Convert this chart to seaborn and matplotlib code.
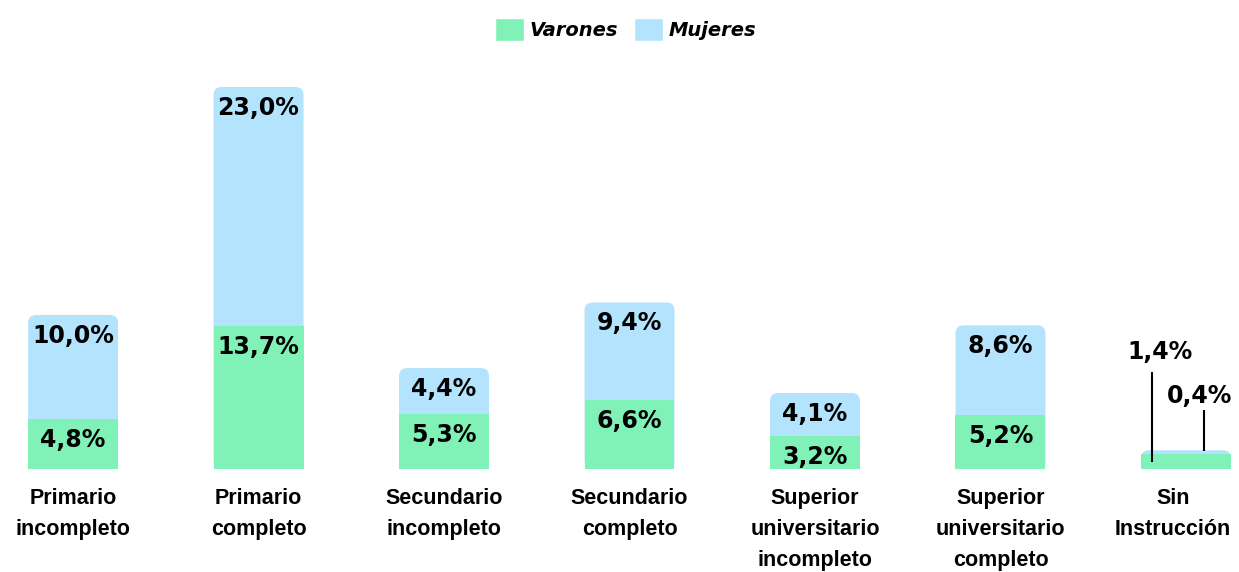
import matplotlib.pyplot as plt
import pandas as pd
import seaborn as sns
from matplotlib.patches import FancyBboxPatch, Patch
from matplotlib.transforms import ScaledTranslation

categorias = [
    "Primario\nincompleto",
    "Primario\ncompleto",
    "Secundario\nincompleto",
    "Secundario\ncompleto",
    "Superior\nuniversitario\nincompleto",
    "Superior\nuniversitario\ncompleto",
    "Sin\nInstrucción",
]
varones = [4.8, 13.7, 5.3, 6.6, 3.2, 5.2, 1.4]
mujeres = [10.0, 23.0, 4.4, 9.4, 4.1, 8.6, 0.4]

verde = "#80f2b8"
celeste = "#b3e3fd"

df = pd.DataFrame({"nivel": categorias, "Varones": varones, "Mujeres": mujeres})
df["total"] = df["Varones"] + df["Mujeres"]

sns.set_style("white")
plt.rcParams["font.family"] = ["DejaVu Sans"]
plt.rcParams["text.color"] = "black"
plt.rcParams["xtick.color"] = "black"

W, H = 1239, 572
fig = plt.figure(figsize=(W / 100, H / 100), dpi=100)
ax = fig.add_axes([0, 103 / H, 1, 409 / H])
xlim = (-0.394, 6.286)
ylim = (0, 39.3)

# total bar (mujeres on top of varones)
sns.barplot(data=df, x="nivel", y="total", color=celeste, saturation=1,
            width=0.485, linewidth=0, ax=ax)

# rounded top corners
px_x = W / (xlim[1] - xlim[0])
px_y = 409 / (ylim[1] - ylim[0])
r = 8 / px_x
for p in list(ax.patches):
    x, y, w, h = p.get_x(), p.get_y(), p.get_width(), p.get_height()
    p.remove()
    ax.add_patch(FancyBboxPatch((x, y), w, h,
                                boxstyle=f"round,pad=0,rounding_size={r}",
                                mutation_aspect=px_x / px_y,
                                fc=celeste, ec="none", zorder=1))

sns.barplot(data=df, x="nivel", y="Varones", color=verde, saturation=1,
            width=0.485, linewidth=0, ax=ax, zorder=2)

ax.set_xlim(*xlim)
ax.set_ylim(*ylim)


def fmt(v):
    return f"{v:.1f}".replace(".", ",") + "%"


for i, row in df.iterrows():
    if i == len(df) - 1:
        continue
    ax.annotate(fmt(row["Mujeres"]), (i, row["total"]), xytext=(0, -15),
                textcoords="offset points", ha="center", va="center",
                fontsize=17, fontweight="bold", zorder=3)
    ax.annotate(fmt(row["Varones"]), (i, row["Varones"]), xytext=(0, -15),
                textcoords="offset points", ha="center", va="center",
                fontsize=17, fontweight="bold", zorder=3)

# small bar: labels with leader lines
i = len(df) - 1
ax.vlines(i - 0.183, 0.7, 9.3, color="black", lw=1.5, zorder=3)
ax.text(i - 0.14, 11.2, fmt(varones[i]), ha="center", va="center",
        fontsize=17, fontweight="bold")
ax.vlines(i + 0.097, 1.7, 5.7, color="black", lw=1.5, zorder=3)
ax.text(i + 0.076, 7.0, fmt(mujeres[i]), ha="center", va="center",
        fontsize=17, fontweight="bold")

ax.set_xlabel("")
ax.set_ylabel("")
ax.set_yticks([])
ax.tick_params(axis="x", length=0, pad=14)
labels = ax.get_xticklabels()
for lab in labels:
    lab.set_family(["Liberation Sans", "DejaVu Sans"])
    lab.set_fontsize(15.5)
    lab.set_fontweight("bold")
    lab.set_linespacing(1.62)
    lab.set_color("black")
# last label sits a little to the left so it fits
labels[-1].set_transform(labels[-1].get_transform()
                         + ScaledTranslation(-0.13, 0, fig.dpi_scale_trans))
sns.despine(ax=ax, left=True, bottom=True)

fig.legend(handles=[Patch(fc=verde, label="Varones"), Patch(fc=celeste, label="Mujeres")],
           loc="upper center", bbox_to_anchor=(0.505, 1.0), ncol=2, frameon=False,
           prop=dict(weight="bold", style="italic", size=14),
           handlelength=1.5, handleheight=1.5, handletextpad=0.3, columnspacing=0.8)

fig.savefig("out.png", dpi=100)
